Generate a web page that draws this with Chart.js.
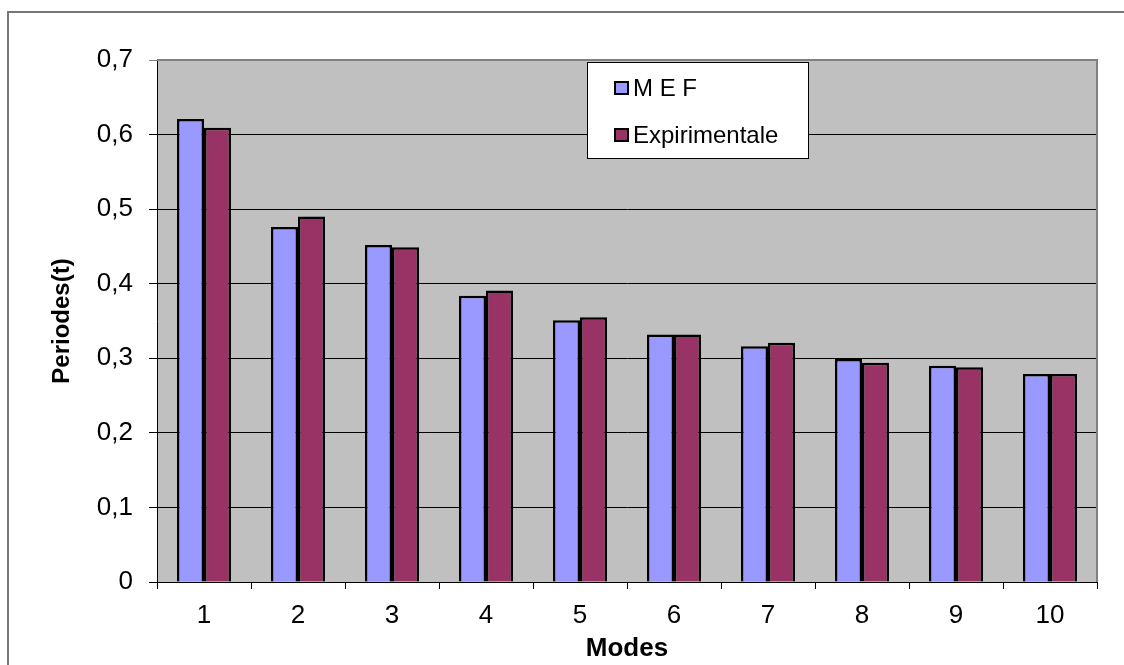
<!DOCTYPE html>
<html>
<head>
<meta charset="utf-8">
<script src="https://cdn.jsdelivr.net/npm/chart.js@4"></script>
<style>
  body { margin: 0; background: #fff; }
  #wrap { position: relative; width: 1124px; height: 665px; }
</style>
</head>
<body>
<div id="wrap"><canvas id="chartModes" width="1124" height="665"></canvas></div>
<script>
var modes = ['1', '2', '3', '4', '5', '6', '7', '8', '9', '10'];
var mefData = [0.621, 0.476, 0.452, 0.384, 0.351, 0.332, 0.316, 0.299, 0.290, 0.279];
var expData = [0.609, 0.490, 0.449, 0.391, 0.355, 0.332, 0.321, 0.294, 0.288, 0.279];
var yTicks = [0, 0.1, 0.2, 0.3, 0.4, 0.5, 0.6, 0.7];

const font = 'Liberation Sans, Arial, sans-serif';

// gray plot background, frame, and the outer border of the picture
const frame = {
    id: 'frame',
    beforeDraw(chart) {
        const c = chart.ctx, a = chart.chartArea;
        c.save();
        c.fillStyle = '#c0c0c0';
        c.fillRect(a.left, a.top, a.right - a.left, a.bottom - a.top);
        c.strokeStyle = '#777';
        c.lineWidth = 2;
        c.beginPath();
        c.moveTo(8, 665);
        c.lineTo(8, 12);
        c.lineTo(1124, 12);
        c.stroke();
        c.restore();
    },
    afterDatasetsDraw(chart) {
        const c = chart.ctx, a = chart.chartArea;
        c.save();
        c.strokeStyle = '#808080';
        c.lineWidth = 2;
        c.beginPath();
        c.moveTo(a.left, a.top);
        c.lineTo(a.right, a.top);
        c.lineTo(a.right, a.bottom);
        c.stroke();
        c.restore();
    }
};

// legend box sitting inside the plot, like the original
const boxLegend = {
    id: 'boxLegend',
    afterDraw(chart) {
        const c = chart.ctx;
        const x = 587, y = 62, w = 221, h = 96;
        c.save();
        c.fillStyle = '#fff';
        c.fillRect(x, y, w, h);
        c.strokeStyle = '#000';
        c.lineWidth = 1;
        c.strokeRect(x + 0.5, y + 0.5, w, h);
        c.font = '24px ' + font;
        c.textBaseline = 'middle';
        chart.data.datasets.forEach(function (ds, i) {
            const cy = 88 + i * 47;
            c.fillStyle = ds.backgroundColor;
            c.fillRect(615, cy - 6, 13, 12);
            c.lineWidth = 2;
            c.strokeStyle = '#000';
            c.strokeRect(615, cy - 6, 13, 12);
            c.fillStyle = '#000';
            c.fillText(ds.label, 633, cy + 1);
        });
        c.restore();
    }
};

const ctx = document.getElementById('chartModes').getContext('2d');

const chart = new Chart(ctx, {
    type: 'bar',
    data: {
        labels: modes,
        datasets: [
            {
                label: 'M E F',
                data: mefData,
                backgroundColor: '#9999ff',
                borderColor: '#000',
                borderWidth: 2.5,
                borderSkipped: 'bottom'
            },
            {
                label: 'Expirimentale',
                data: expData,
                backgroundColor: '#993366',
                borderColor: '#000',
                borderWidth: 2.5,
                borderSkipped: 'bottom'
            }
        ]
    },
    options: {
        responsive: false,
        animation: false,
        layout: { padding: { top: 60, right: 27, left: 0, bottom: 0 } },
        datasets: { bar: { categoryPercentage: 0.575, barPercentage: 1 } },
        plugins: { legend: { display: false }, tooltip: { enabled: false } },
        scales: {
            x: {
                afterFit: function (s) { s.height = 83; },
                grid: { offset: true, drawOnChartArea: false, drawTicks: true, tickLength: 7, color: '#000' },
                border: { color: '#000', width: 1 },
                ticks: { color: '#000', padding: 11, font: { family: font, size: 26 } },
                title: { display: true, text: 'Modes', color: '#000', padding: { top: 0, bottom: 1 },
                         font: { family: font, size: 26, weight: 'bold' } }
            },
            y: {
                min: 0,
                max: 0.7,
                afterFit: function (s) { s.width = 157; },
                afterBuildTicks: function (s) { s.ticks = yTicks.map(function (v) { return { value: v }; }); },
                grid: {
                    tickLength: 8,
                    color: function (c) { return c.tick && c.tick.value === 0.7 ? '#808080' : '#000'; }
                },
                border: { color: '#000', width: 1 },
                ticks: {
                    color: '#000',
                    padding: 16,
                    font: { family: font, size: 26 },
                    callback: function (v) { return String(+v.toFixed(1)).replace('.', ','); }
                },
                title: { display: true, text: 'Periodes(t)', color: '#000', padding: { top: 48, bottom: 0 },
                         font: { family: font, size: 24, weight: 'bold' } }
            }
        }
    },
    plugins: [frame, boxLegend]
});
</script>
</body>
</html>
